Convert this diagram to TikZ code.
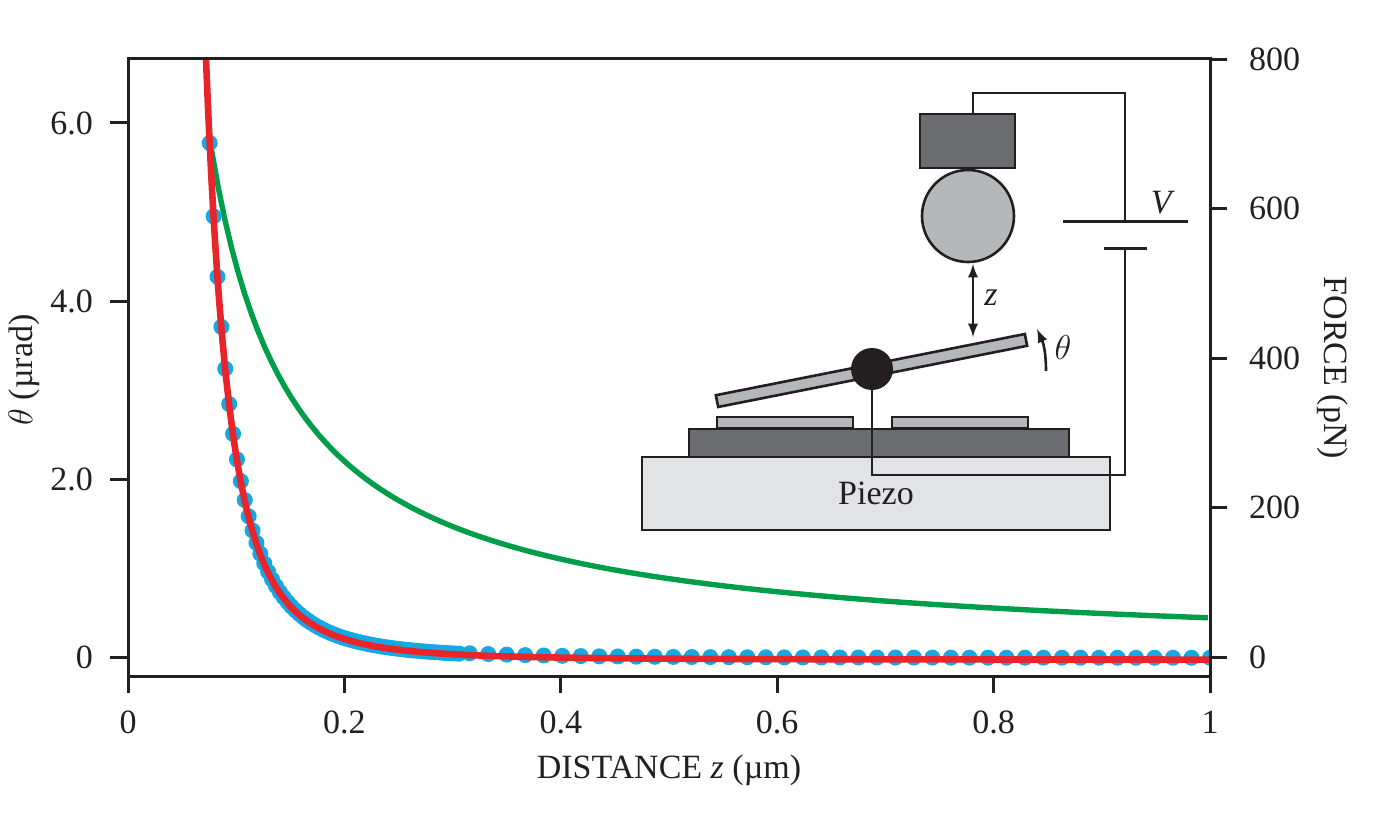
\documentclass[tikz,border=0pt]{standalone}
\usepackage{fontspec}
\setmainfont{Liberation Serif}
\usetikzlibrary{arrows}
\definecolor{dotblue}{RGB}{20,168,228}
\definecolor{fitred}{RGB}{232,37,43}
\definecolor{calcgreen}{RGB}{0,158,75}
\definecolor{darkgrey}{RGB}{106,108,111}
\definecolor{midgrey}{RGB}{181,184,186}
\definecolor{palegrey}{RGB}{225,227,229}
\definecolor{ink}{RGB}{35,31,32}
\tikzset{
  part/.style={draw=ink,line width=1.3pt,inner sep=0pt,outer sep=0pt},
  wire/.style={draw=ink,line width=1.2pt},
  ax/.style={draw=ink,line width=1.5pt}
}
\begin{document}
\begin{tikzpicture}[x=0.5pt,y=-0.5pt,font=\fontsize{17}{20}\selectfont,color=ink]
\useasboundingbox (0,0) rectangle (1382,824);
\begin{scope}
\clip (128,59) rectangle (1210,676);
\draw[calcgreen,line width=2.7pt] plot[domain=0.0773:1,samples=150] ({128+1082*\x},{657-89*0.44/\x});
\foreach \i in {0,...,64} {\pgfmathsetmacro\zz{0.0755+0.0036*\i}
  \fill[dotblue] ({128+1082*\zz},{657-89*((0.1286/\zz)^3.3-0.02)}) circle[radius=4pt];}
\foreach \i in {0,...,40} {\pgfmathsetmacro\zz{1-0.0171*\i}
  \fill[dotblue] ({128+1082*\zz},{657-89*((0.1286/\zz)^3.3-0.01)}) circle[radius=4pt];}
\draw[fitred,line width=3.3pt] plot[domain=0.071:0.25,samples=120] ({128+1082*\x},{657-89*((0.1286/\x)^3.3-0.03)})
  -- plot[domain=0.25:1,samples=50] ({128+1082*\x},{657-89*((0.1286/\x)^3.3-0.03)});
\end{scope}
\draw[ax] (128,59) rectangle (1210,676);
\foreach \t/\l [count=\n] in {0/0,0.2/0.2,0.4/0.4,0.6/0.6,0.8/0.8,1/1}
  \draw[ax,shift={({128+1082*\t},676)}] (0,0) -- (0,17) node[anchor=center] (xt\n) at (0,46) {\l};
\foreach \v/\l in {0/0,2/2.0,4/4.0,6/6.0}
  \draw[ax] (110,{657-89*\v}) -- (128,{657-89*\v}) node[anchor=east] (yt\v) at (101,{657-89*\v}) {\l};
\foreach \f in {0,200,...,800}
  \draw[ax] (1210,{657-0.7475*\f}) -- (1227,{657-0.7475*\f}) node[anchor=west] (ft\f) at (1241,{657-0.7475*\f}) {\f};
\node (distlab) at (669,770) {DISTANCE \textit{z} (µm)};
\node[rotate=90] (thetalab) at (24,370) {$\theta$ (µrad)};
\node[rotate=-90] (forcelab) at (1333,368) {FORCE (pN)};
\node[part,fill=palegrey,minimum width=234pt,minimum height=36.5pt] (piezo) at (876,493.5) {Piezo};
\node[part,fill=darkgrey,minimum width=190pt,minimum height=14pt] (base) at (879,443) {};
\node[part,fill=midgrey,minimum width=68pt,minimum height=5.5pt] (padL) at (785,422.5) {};
\node[part,fill=midgrey,minimum width=68pt,minimum height=5.5pt] (padR) at (960,422.5) {};
\node[part,fill=midgrey,minimum width=157.5pt,minimum height=6pt,rotate=11.2] (lever) at (871.5,370.5) {};
\node[circle,fill=ink,minimum size=21pt,inner sep=0pt] (pivot) at (872,369) {};
\node[part,fill=darkgrey,minimum width=47.5pt,minimum height=27pt] (holder) at (967.5,141) {};
\node[part,circle,fill=midgrey,minimum size=46pt] (sphere) at (968,216) {};
\coordinate (vplus) at (1125,221);
\coordinate (vminus) at (1125,248);
\coordinate (gapbot) at (973,337);
\draw[ax] ([xshift=-31pt]vplus) -- ([xshift=31.5pt]vplus);
\draw[ax] ([xshift=-10.75pt]vminus) -- ([xshift=10.75pt]vminus);
\node (vlab) at (1163,203) {\textit{V}};
\draw[wire] ([xshift=2.75pt]holder.north) -- ++(0,-21) -| (vplus);
\draw[wire] (vminus) -- ++(0,227) -| (pivot.south);
\draw[latex-latex,line width=1.3pt] ([xshift=2.5pt,yshift=-1pt]sphere.south) -- (gapbot);
\node (zlab) at (991,298) {\textit{z}};
\draw[-latex,line width=1.3pt] (1046,371) to[bend right=12] (1037,329);
\node (thlab) at (1063,347) {$\theta$};
\end{tikzpicture}
\end{document}
